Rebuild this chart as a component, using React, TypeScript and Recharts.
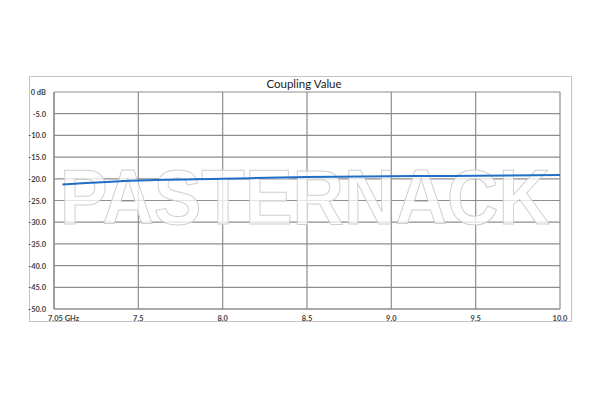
import React from 'react';
import { LineChart, Line, XAxis, YAxis, CartesianGrid, Customized } from 'recharts';

const freqGHz = [7.05, 7.5, 8.0, 8.5, 9.0, 9.5, 10.0];
const couplingDb = [-21.3, -20.4, -20.0, -19.6, -19.4, -19.3, -19.1];

const xTicks = [7.0, 7.5, 8.0, 8.5, 9.0, 9.5, 10.0];
const xTickLabels = ['7.05 GHz', '7.5', '8.0', '8.5', '9.0', '9.5', '10.0'];
const yTicks = [-50, -45, -40, -35, -30, -25, -20, -15, -10, -5, 0];

const GRID = '#8e8e8e';
const FONT = 'Lato, "Open Sans", sans-serif';

const data = freqGHz.map((f, i) => ({ f, v: couplingDb[i] }));

const XTick = ({ x, y, index }: any) => {
  const first = index === 0;
  return (
    <text
      x={first ? x - 6 : x}
      y={y + 4}
      textAnchor={first ? 'start' : 'middle'}
      fontSize={7.5}
      fontWeight={700}
      fill="#444"
      fontFamily={FONT}
    >
      {xTickLabels[index]}
    </text>
  );
};

const YTick = ({ x, y, payload }: any) => (
  <text x={x} y={y + 3} textAnchor="end" fontSize={7.5} fontWeight={700} fill="#444" fontFamily={FONT}>
    {payload.value === 0 ? '0 dB' : payload.value.toFixed(1)}
  </text>
);

const Watermark = () => (
  <text
    x={60}
    y={224}
    fontSize={78}
    fontWeight={700}
    fontFamily='"Liberation Sans", Arial, sans-serif'
    textLength={490}
    lengthAdjust="spacingAndGlyphs"
    fill="#ffffff"
    fillOpacity={0.75}
    stroke="#cfcfcf"
    strokeWidth={1}
  >
    PASTERNACK
  </text>
);

const App = () => {
  return (
    <div style={{ position: 'absolute', left: 0, top: 0, width: 600, height: 400, background: '#fff' }}>
      <div
        style={{
          position: 'absolute',
          left: 29,
          top: 76,
          width: 543,
          height: 246,
          border: '1px solid #c4c4c4',
          boxSizing: 'border-box',
        }}
      />
      <div
        style={{
          position: 'absolute',
          left: 0,
          width: 600,
          top: 77,
          textAlign: 'center',
          fontFamily: FONT,
          fontSize: 11.5,
          color: '#222',
          paddingLeft: 4,
        }}
      >
        Coupling Value
      </div>
      <div style={{ position: 'absolute', left: 0, top: 0 }}>
        <LineChart width={600} height={400} data={data} margin={{ top: 92, right: 40, bottom: 71, left: 4 }}>
          <CartesianGrid stroke={GRID} strokeWidth={1.2} />
          <Customized component={Watermark} />
          <XAxis
            dataKey="f"
            type="number"
            domain={[7.0, 10.0]}
            ticks={xTicks}
            tick={<XTick />}
            tickLine={false}
            axisLine={{ stroke: GRID, strokeWidth: 1.2 }}
            height={20}
            interval={0}
          />
          <YAxis
            type="number"
            domain={[-50, 0]}
            ticks={yTicks}
            tick={<YTick />}
            tickLine={false}
            axisLine={{ stroke: GRID, strokeWidth: 1.2 }}
            width={50}
            interval={0}
          />
          <Line
            type="monotone"
            dataKey="v"
            stroke="#1f6fc6"
            strokeWidth={2}
            dot={false}
            isAnimationActive={false}
          />
        </LineChart>
      </div>
    </div>
  );
};

export default App;
